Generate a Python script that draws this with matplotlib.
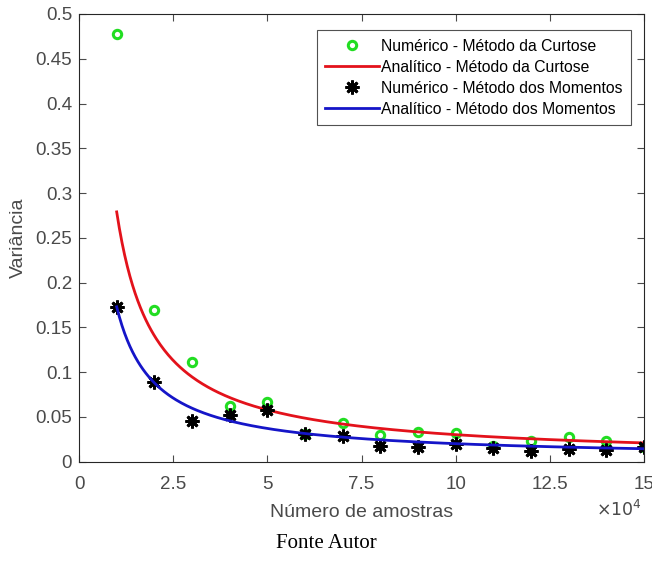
import numpy as np
import matplotlib
matplotlib.use("Agg")
import matplotlib.pyplot as plt
from matplotlib.ticker import FuncFormatter

plt.rcParams['font.family'] = ['Liberation Sans', 'DejaVu Sans']

# number of samples
amostras = [10000, 20000, 30000, 40000, 50000, 60000, 70000, 80000,
            90000, 100000, 110000, 120000, 130000, 140000, 150000]

# numerical variance, kurtosis method
var_curtose = [0.478, 0.170, 0.111, 0.0625, 0.067, 0.031, 0.0435, 0.030,
               0.0335, 0.032, 0.018, 0.0235, 0.028, 0.0235, 0.017]

# numerical variance, method of moments
var_momentos = [0.173, 0.089, 0.0457, 0.052, 0.058, 0.031, 0.029, 0.018,
                0.016, 0.020, 0.0155, 0.0115, 0.0145, 0.0126, 0.016]

# analytic curves: var = a * 1e4 / n + b
a_curtose, b_curtose = 0.2764, 0.0026
a_momentos, b_momentos = 0.1698, 0.0032

n = np.linspace(10000, 150000, 400)
an_curtose = a_curtose * 1e4 / n + b_curtose
an_momentos = a_momentos * 1e4 / n + b_momentos

txt = '#4a4a4a'

fig = plt.figure(figsize=(6.52, 5.62), dpi=100)
ax = fig.add_axes([0.1212, 0.1784, 0.8665, 0.7967])

ax.plot(amostras, var_curtose, linestyle='none', marker='o', ms=6,
        mfc='none', mec='#22dd22', mew=2.2, label='Numérico - Método da Curtose')
ax.plot(n, an_curtose, color='#e3121b', lw=2, label='Analítico - Método da Curtose')
ax.plot(amostras, var_momentos, linestyle='none', marker=(8, 2, 0), ms=10,
        mfc='black', mec='black', mew=2.0, label='Numérico - Método dos Momentos')
ax.plot(n, an_momentos, color='#1515c8', lw=2, label='Analítico - Método dos Momentos')

ax.set_xlim(0, 150000)
ax.set_ylim(0, 0.5)
ax.set_xticks(np.arange(0, 150001, 25000))
ax.set_yticks(np.arange(0, 0.501, 0.05))
ax.xaxis.set_major_formatter(FuncFormatter(lambda v, p: f'{v / 1e4:g}'))
ax.yaxis.set_major_formatter(FuncFormatter(lambda v, p: f'{v:g}'))
ax.tick_params(direction='in', top=True, right=True, labelsize=13.5,
               colors=txt, length=5, width=0.8)
ax.tick_params(axis='x', pad=10)
ax.tick_params(axis='y', pad=5)
for s in ax.spines.values():
    s.set_color('#262626')
    s.set_linewidth(0.8)

ax.set_xlabel('Número de amostras', fontsize=14, color=txt, labelpad=8)
ax.set_ylabel('Variância', fontsize=14, color=txt, labelpad=6)
ax.text(0.9965, -0.083, r'$\times 10^4$', transform=ax.transAxes, ha='right',
        va='top', fontsize=12.5, color=txt)

leg = ax.legend(loc='upper right', fontsize=11.3, frameon=True, fancybox=False,
                borderpad=0.55, labelspacing=0.38, handlelength=3.4,
                handletextpad=0.15, borderaxespad=0,
                bbox_to_anchor=(0.977, 0.964))
leg.get_frame().set_edgecolor('#262626')
leg.get_frame().set_linewidth(0.8)

fig.text(0.5, 0.033, 'Fonte Autor', ha='center', va='center', fontsize=15,
         family=['Liberation Serif', 'DejaVu Serif'], color='black')

fig.savefig('out.png', dpi=100)
